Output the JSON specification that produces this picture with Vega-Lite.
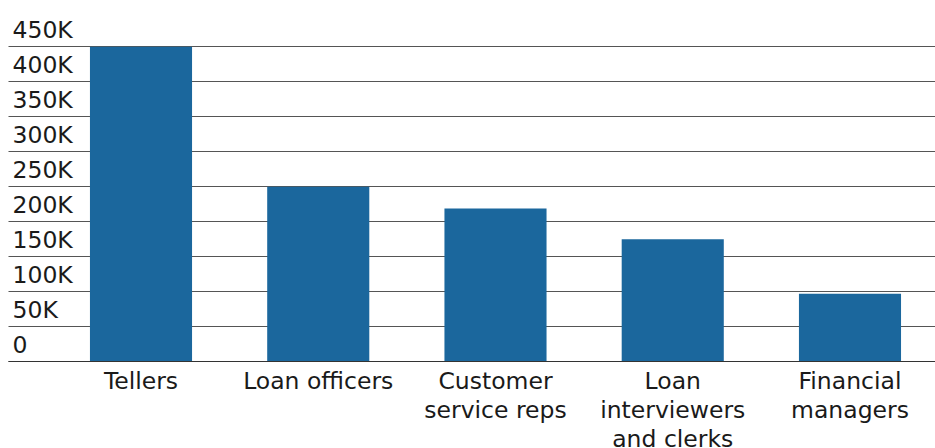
{
  "$schema": "https://vega.github.io/schema/vega-lite/v6.json",
  "autosize": "none",
  "width": 927,
  "height": 315,
  "padding": {"left": 8, "top": 46, "right": 0, "bottom": 87},
  "background": "white",
  "data": {"values": [
    {"job": "Tellers", "employment": 449000},
    {"job": "Loan officers", "employment": 249000},
    {"job": "Customer|service reps", "employment": 218000},
    {"job": "Loan|interviewers|and clerks", "employment": 174000},
    {"job": "Financial|managers", "employment": 96000}
  ]},
  "mark": {"type": "bar", "color": "#1b679d"},
  "encoding": {
    "x": {
      "field": "job", "type": "nominal", "sort": null,
      "scale": {"paddingInner": 0.424, "paddingOuter": 0.327, "align": 0.707},
      "axis": {
        "title": null, "labelAngle": 0, "ticks": false,
        "labelExpr": "split(datum.label, '|')",
        "labelFont": "DejaVu Sans", "labelFontSize": 23.5, "labelColor": "#1a1a1a",
        "labelLineHeight": 29, "labelPadding": 8, "labelBaseline": "top",
        "domainColor": "#333333", "domainWidth": 1.2, "labelLimit": 300,
        "labelOverlap": false
      }
    },
    "y": {
      "field": "employment", "type": "quantitative",
      "scale": {"domain": [0, 450000]},
      "axis": {
        "title": null, "values": [0,50000,100000,150000,200000,250000,300000,350000,400000,450000],
        "labelExpr": "datum.value == 0 ? '0' : (datum.value/1000) + 'K'",
        "ticks": false, "domain": false, "labelOverlap": false,
        "labelAlign": "left", "labelPadding": -4, "labelBaseline": "alphabetic", "labelOffset": -9,
        "labelFont": "DejaVu Sans", "labelFontSize": 23.5, "labelColor": "#1a1a1a",
        "grid": true, "gridColor": "#555555", "gridWidth": 1,
        "zindex": 0
      }
    }
  },
  "config": {"view": {"stroke": null}}
}
